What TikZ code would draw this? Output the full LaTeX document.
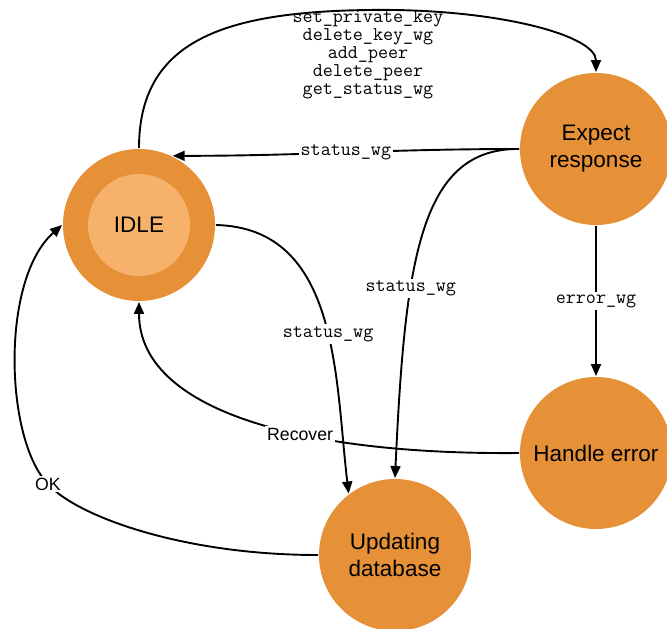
\documentclass[tikz,border=0pt]{standalone}
\usepackage{fontspec}
\setmainfont{Liberation Sans}
\usetikzlibrary{arrows.meta}
\definecolor{stateorange}{HTML}{E69138}
\definecolor{idlecore}{HTML}{F6B26B}
\begin{document}
\begin{tikzpicture}[x=1pt, y=-1pt, line width=1.9pt,
  state/.style={circle, fill=stateorange, minimum size=152pt, inner sep=0pt, align=center, font=\fontsize{22.5}{27}\selectfont},
  cmd/.style={font=\fontsize{19.5}{18}\ttfamily, fill=white, inner sep=2pt, align=center},
  txt/.style={font=\fontsize{17.7}{20}\selectfont, fill=white, inner sep=2pt},
  trans/.style={-{Triangle[length=12pt,width=10pt]}}]

\useasboundingbox (0,0) rectangle (667,629);

% states
\node [state] (idle) at (139,225) {};
\node [state, fill=idlecore, minimum size=102pt] (idlecore) at (idle) {IDLE};
\node [state] (expect) at (596,149) {Expect\\response};
\node [state] (handle) at (596,453) {Handle error};
\node [state] (update) at (395,555) {Updating\\database};

% transitions
\draw [trans] (idle.north) .. controls (139,40) and (225,12) .. (368,10)
  node [cmd, fill=none, below, inner sep=0pt] {set\_private\_key\\delete\_key\_wg\\add\_peer\\delete\_peer\\get\_status\_wg}
  .. controls (495,8) and (596,35) .. (expect.north);
\draw [trans] (expect.west) to [out=180, in=0] node [cmd] {status\_wg} (idle.64);
\draw [trans] (idle.east) .. controls (340,228) and (335,380) .. node [cmd, pos=0.55] {status\_wg} (update.127);
\draw [trans] (expect.west) .. controls (420,148) and (405,260) .. node [cmd, pos=0.65] {status\_wg} (update.north);
\draw [trans] (expect.south) -- node [cmd] {error\_wg} (handle.north);
\draw [trans] (handle.west) .. controls (300,455) and (139,410) .. node [txt, pos=0.38] {Recover} (idle.south);
\draw [trans] (update.west) .. controls (180,555) and (75,515) .. (48,484) node [txt] {OK}
  .. controls (5,440) and (0,280) .. (idle.west);

\end{tikzpicture}
\end{document}
